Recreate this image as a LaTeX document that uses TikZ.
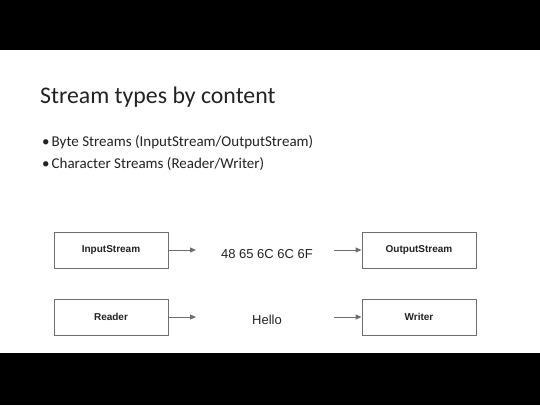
\documentclass[tikz,border=0pt]{standalone}
\usepackage{fontspec}
\setmainfont{Carlito}
\newfontfamily\arialf{Liberation Sans}
\usetikzlibrary{arrows.meta}
\definecolor{boxgray}{HTML}{6E6E6E}
\definecolor{txt}{HTML}{222222}
\tikzset{
  x=1pt, y=-1pt,
  box/.style={draw=boxgray, line width=0.9pt, minimum width=114pt, minimum height=36pt, inner sep=0pt, font=\arialf\bfseries\fontsize{10}{12}\selectfont, text=txt},
  flow/.style={draw=boxgray, line width=0.9pt, -{Triangle[length=6pt,width=5pt]}},
  data/.style={font=\arialf\fontsize{13}{15}\selectfont, text=txt, inner sep=0pt}
}
\begin{document}
\begin{tikzpicture}
\useasboundingbox (0,0) rectangle (540,405);
\fill[black] (0,0) rectangle (540,50);
\fill[black] (0,353) rectangle (540,405);
\node[anchor=base west, inner sep=0pt, text=txt, font=\fontsize{23.8}{28}\selectfont] (title) at (40,103) {Stream types by content};
\node[anchor=base west, inner sep=0pt, text=txt, font=\fontsize{15}{18}\selectfont] (b1) at (42,146) {\textbullet\hspace{2pt}Byte Streams (InputStream/OutputStream)};
\node[anchor=base west, inner sep=0pt, text=txt, font=\fontsize{15}{18}\selectfont] (b2) at (42,168) {\textbullet\hspace{2pt}Character Streams (Reader/Writer)};
\node[box] (in) at (111,250) {InputStream};
\node[box] (out) at (419,250) {OutputStream};
\node[box] (rd) at (111,317) {Reader};
\node[box] (wr) at (419,317) {Writer};
\node[data] (hex) at (267,254) {48 65 6C 6C 6F};
\node[data] (hello) at (267,320) {Hello};
\coordinate (a1e) at (196,250);
\coordinate (a2s) at (334,250);
\coordinate (a3e) at (196,317);
\coordinate (a4s) at (334,317);
\draw[flow] (in.east) -- (a1e);
\draw[flow] (a2s) -- (out.west);
\draw[flow] (rd.east) -- (a3e);
\draw[flow] (a4s) -- (wr.west);
\end{tikzpicture}
\end{document}
